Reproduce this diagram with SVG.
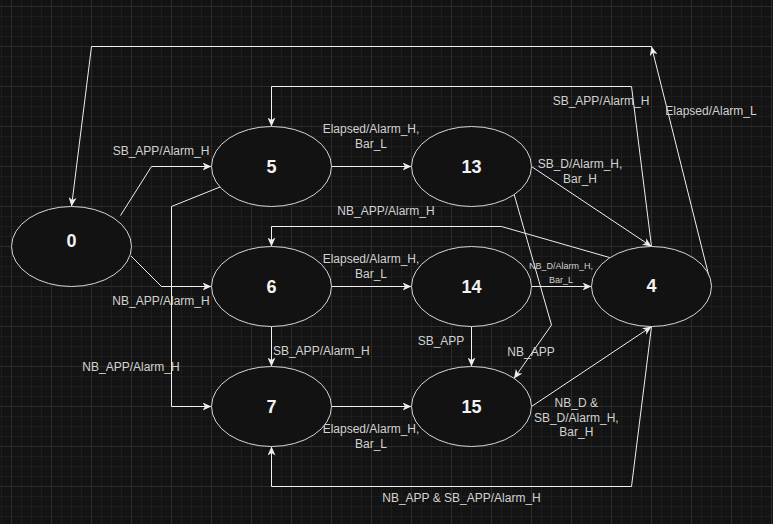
<svg xmlns="http://www.w3.org/2000/svg" width="773" height="524" viewBox="0 0 773 524">
<style>
.n ellipse{fill:#121212;stroke:#d6d6d6;stroke-width:1}
.n text{font-family:"Liberation Sans",Arial,sans-serif;font-size:18px;fill:#f2f2f2;text-anchor:middle;font-weight:bold}
.e path{fill:none;stroke:#eeeeee;stroke-width:1;marker-end:url(#ar)}
.l{font-family:"Liberation Sans",Arial,sans-serif;font-size:12px;fill:#d2d2d2;text-anchor:middle}
.s{font-size:9px}
</style>
<defs>
<pattern id="g" x="11" y="6" width="40" height="40" patternUnits="userSpaceOnUse">
<path d="M10.5,0V40M20.5,0V40M30.5,0V40M0,10.5H40M0,20.5H40M0,30.5H40" stroke="#1d1d1d" stroke-width="1" fill="none"/>
<path d="M0.5,0V40M0,0.5H40" stroke="#2c2c2c" stroke-width="1" fill="none"/>
</pattern>
<marker id="ar" viewBox="0 0 9 8" refX="9" refY="4" markerWidth="9" markerHeight="8" markerUnits="userSpaceOnUse" orient="auto">
<path d="M0,0 L9,4 L0,8 L2.5,4 z" fill="#eeeeee"/>
</marker>
</defs>
<rect width="773" height="524" fill="#131313"/>
<rect width="773" height="524" fill="url(#g)"/>
<g id="connectors" class="e">
<path d="M711.5,286.5 L651.5,46.5"/>
<path d="M651.5,46.5 L91.5,46.5 L71.5,206.5"/>
<path d="M651.5,246.5 L631.5,86.5 L271.5,86.5 L271.5,126.5"/>
<path d="M120.5,215.5 L151.5,166.5 L211.5,166.5"/>
<path d="M131,256 L161.5,286.5 L211.5,286.5"/>
<path d="M220,187 L171.5,206.5 L171.5,406.5 L211.5,406.5"/>
<path d="M331.5,166.5 L411.5,166.5"/>
<path d="M531.5,166.5 L651.5,246.5"/>
<path d="M609.5,257.5 L501.5,226.5 L271.5,226.5 L271.5,246.5"/>
<path d="M331.5,286.5 L411.5,286.5"/>
<path d="M531.5,286.5 L591.5,286.5"/>
<path d="M271.5,326.5 L271.5,366.5"/>
<path d="M471.5,326.5 L471.5,366.5"/>
<path d="M514,194 L551.5,325 L514,378.5"/>
<path d="M331.5,406.5 L411.5,406.5"/>
<path d="M531.5,406.5 L651.5,326.5"/>
<path d="M651.5,326.5 L631.5,486.5 L271.5,486.5 L271.5,446.5"/>
</g>
<g id="labels">
<text class="l" x="711" y="115">Elapsed/Alarm_L</text>
<text class="l" x="601" y="104.5">SB_APP/Alarm_H</text>
<text class="l" x="161" y="155">SB_APP/Alarm_H</text>
<text class="l" x="161" y="305">NB_APP/Alarm_H</text>
<text class="l" x="131" y="371">NB_APP/Alarm_H</text>
<text class="l" x="371" y="133">Elapsed/Alarm_H,</text>
<text class="l" x="371" y="148">Bar_L</text>
<text class="l" x="580" y="167.5">SB_D/Alarm_H,</text>
<text class="l" x="580" y="182.5">Bar_H</text>
<text class="l" x="386" y="215">NB_APP/Alarm_H</text>
<text class="l" x="371" y="263">Elapsed/Alarm_H,</text>
<text class="l" x="371" y="278">Bar_L</text>
<text class="l s" x="561" y="268.8">NB_D/Alarm_H,</text>
<text class="l s" x="561" y="282.5">Bar_L</text>
<text class="l" x="321.3" y="355">SB_APP/Alarm_H</text>
<text class="l" x="441" y="345">SB_APP</text>
<text class="l" x="531" y="356">NB_APP</text>
<text class="l" x="371" y="433">Elapsed/Alarm_H,</text>
<text class="l" x="371" y="447.5">Bar_L</text>
<text class="l" x="576.3" y="407">NB_D &amp;</text>
<text class="l" x="576.3" y="421.5">SB_D/Alarm_H,</text>
<text class="l" x="576.3" y="436">Bar_H</text>
<text class="l" x="461.5" y="501.5">NB_APP &amp; SB_APP/Alarm_H</text>
</g>
<g id="node0" class="n"><ellipse cx="71.5" cy="246.5" rx="60" ry="40"/><text x="71.5" y="246.5">0</text></g>
<g id="node5" class="n"><ellipse cx="271.5" cy="166.5" rx="60" ry="40"/><text x="271.5" y="172.5">5</text></g>
<g id="node13" class="n"><ellipse cx="471.5" cy="166.5" rx="60" ry="40"/><text x="471.5" y="172.5">13</text></g>
<g id="node6" class="n"><ellipse cx="271.5" cy="286.5" rx="60" ry="40"/><text x="271.5" y="292.5">6</text></g>
<g id="node14" class="n"><ellipse cx="471.5" cy="286.5" rx="60" ry="40"/><text x="471.5" y="292.5">14</text></g>
<g id="node4" class="n"><ellipse cx="651.5" cy="286.5" rx="60" ry="40"/><text x="651.5" y="292">4</text></g>
<g id="node7" class="n"><ellipse cx="271.5" cy="406.5" rx="60" ry="40"/><text x="271.5" y="412.5">7</text></g>
<g id="node15" class="n"><ellipse cx="471.5" cy="406.5" rx="60" ry="40"/><text x="471.5" y="412.5">15</text></g>
</svg>
